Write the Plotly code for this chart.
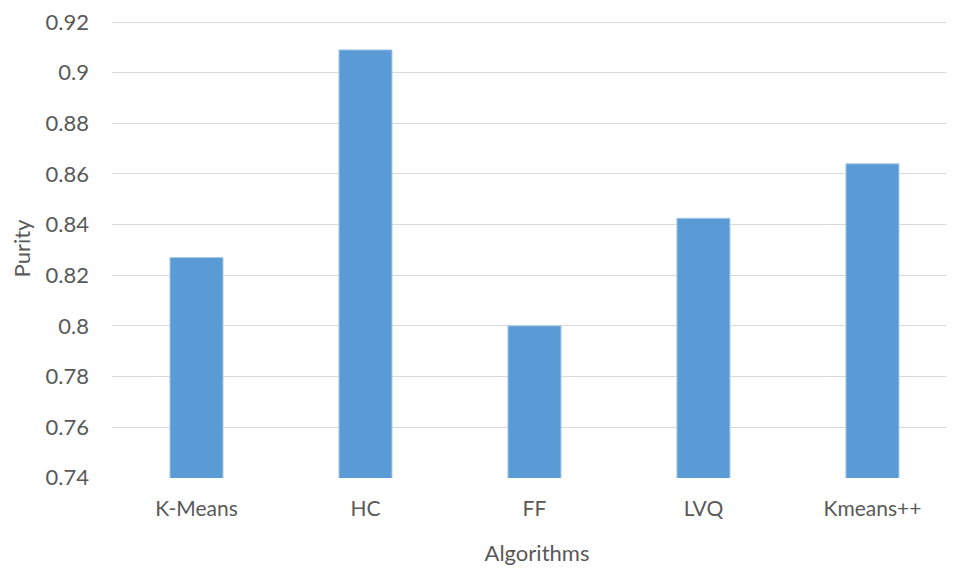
import plotly.graph_objects as go

categories = ["K-Means", "HC", "FF", "LVQ", "Kmeans++"]
purity = [0.827, 0.909, 0.800, 0.8425, 0.864]
y_ticks = [0.74, 0.76, 0.78, 0.80, 0.82, 0.84, 0.86, 0.88, 0.90, 0.92]
y_tick_labels = ["0.74", "0.76", "0.78", "0.8", "0.82", "0.84", "0.86", "0.88", "0.9", "0.92"]

font_family = "Lato, 'Open Sans', sans-serif"
gray = "#595959"

fig = go.Figure(
    go.Bar(
        x=categories,
        y=purity,
        base=0,
        marker=dict(color="#5B9BD5", line=dict(color="#A9CBEA", width=1)),
    )
)

fig.update_layout(
    width=954,
    height=572,
    margin=dict(l=104, r=0, t=9, b=102),
    paper_bgcolor="white",
    plot_bgcolor="white",
    bargap=0.686,
    showlegend=False,
    font=dict(family=font_family, size=22, color=gray),
)

fig.update_xaxes(
    range=[-0.5, 4.53],
    showgrid=False,
    showline=False,
    ticks="",
    ticklabelstandoff=16,
    tickfont=dict(size=21, color=gray),
    title=dict(text="Algorithms", font=dict(size=22, color=gray), standoff=26),
)

fig.update_yaxes(
    range=[0.7399, 0.9212],
    tickvals=y_ticks,
    ticktext=y_tick_labels,
    showgrid=True,
    gridcolor="#D9D9D9",
    gridwidth=1,
    zeroline=False,
    showline=False,
    ticks="",
    ticklabelstandoff=22,
    ticklabeloverflow="allow",
    tickfont=dict(size=22, color=gray),
    title=dict(text="Purity", font=dict(size=22, color=gray), standoff=10),
)

fig.write_html("out.html")
